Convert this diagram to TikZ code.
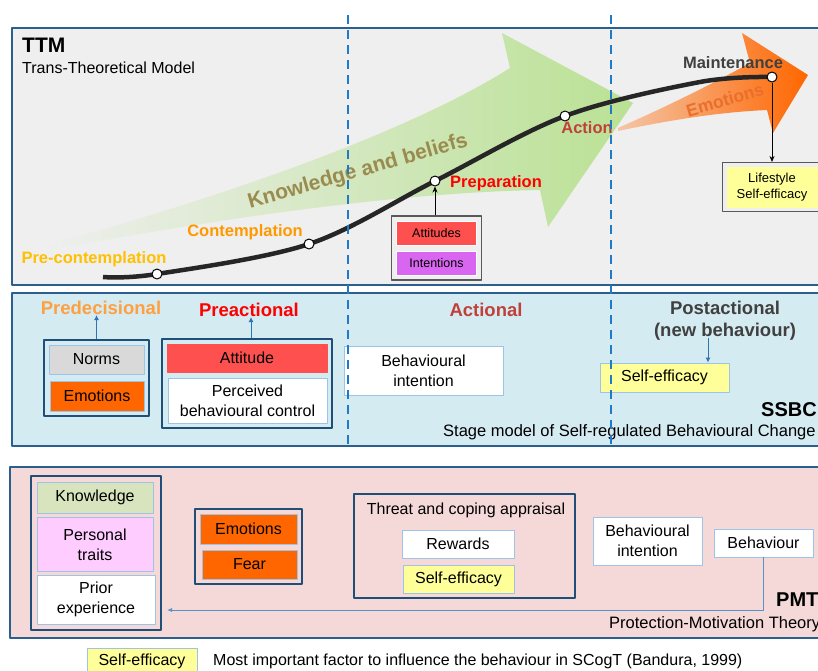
\documentclass[tikz,border=0pt]{standalone}
\usepackage{fontspec}
\setmainfont{Liberation Sans}
\usetikzlibrary{arrows.meta,fit,positioning}

\definecolor{ttmbg}{HTML}{EFEFEF}
\definecolor{ssbcbg}{HTML}{D5EBF2}
\definecolor{pmtbg}{HTML}{F5D9D8}
\definecolor{frame}{HTML}{2B5F8F}
\definecolor{gblue}{HTML}{1F4E79}
\definecolor{lblue}{HTML}{9DC3E6}
\definecolor{arblue}{HTML}{2E75B6}
\definecolor{vdblue}{HTML}{1F7BC8}
\definecolor{ggray}{HTML}{595959}
\definecolor{kgreen}{HTML}{BAE194}
\definecolor{ktext}{HTML}{9A8B4F}
\definecolor{eorange}{HTML}{FF6600}
\definecolor{etext}{HTML}{EA6E2C}
\definecolor{cpre}{HTML}{FFC000}
\definecolor{ccon}{HTML}{FF9900}
\definecolor{cprep}{HTML}{FF0000}
\definecolor{cact}{HTML}{C0403A}
\definecolor{cmnt}{HTML}{404040}
\definecolor{cpred}{HTML}{FFA040}
\definecolor{attred}{HTML}{FF5050}
\definecolor{intviol}{HTML}{D966F0}
\definecolor{normgray}{HTML}{D9D9D9}
\definecolor{yel}{HTML}{FFFF99}
\definecolor{knowgreen}{HTML}{D7E4BD}
\definecolor{perspink}{HTML}{FFCCFF}

\newcommand\fsz[2]{\fontsize{#1}{#2}\selectfont}

\tikzset{
  panel/.style={draw=frame, line width=2pt},
  inbox/.style={draw=lblue, line width=0.9pt, align=center, inner sep=0pt,
    font=\fsz{16}{20}},
  grp/.style={draw=gblue, line width=2pt, inner sep=5pt},
  phase/.style={font=\bfseries\fsz{18.5}{22}, inner sep=0pt, align=center},
  stagelab/.style={font=\bfseries\fsz{16.5}{19}, inner sep=0pt},
  dot/.style={circle, draw=black, fill=white, line width=1pt,
    minimum size=10pt, inner sep=0pt},
  uparr/.style={draw=arblue, line width=0.9pt, -{Latex[length=5pt,width=5pt]}},
  vdash/.style={draw=vdblue, line width=2pt, dash pattern=on 9pt off 6pt},
}

\begin{document}
\begin{tikzpicture}[x=1pt, y=-1pt, line join=round]
  \useasboundingbox (0,0) rectangle (818,670);
  \clip (0,0) rectangle (818,670);

  % panels
  \draw[panel, fill=ttmbg] (12,28) rectangle (830,285);
  \draw[panel, fill=ssbcbg] (12,293) rectangle (830,446);
  \draw[panel, fill=pmtbg] (10,467) rectangle (830,638);

  % TTM
  \node[anchor=west, inner sep=0pt, font=\bfseries\fsz{21}{24}] (ttm) at (22,45) {TTM};
  \node[anchor=west, inner sep=0pt, font=\fsz{16}{19}] (ttmname) at (22,68) {Trans-Theoretical Model};

  \shade[left color=ttmbg, right color=kgreen]
    (40,247) .. controls (250,190) and (420,125) .. (510,68) -- (502,33)
    -- (633,103) -- (548,227) -- (540,190)
    .. controls (420,192) and (250,212) .. (40,252) -- cycle;
  \shade[left color=ttmbg!70!eorange, middle color=eorange!65, right color=eorange]
    (618,128) .. controls (670,105) and (710,85) .. (750,63) -- (742,33)
    -- (808,75) -- (773,133) -- (767,110)
    .. controls (720,112) and (670,120) .. (618,131) -- cycle;
  \node[rotate=16, text=ktext, font=\bfseries\fsz{21}{24}, inner sep=0pt] (kb) at (358,172) {Knowledge and beliefs};
  \node[rotate=16, text=etext, font=\bfseries\fsz{17.5}{20}, inner sep=0pt] (emo) at (725,100) {Emotions};

  % stage curve
  \coordinate (c0) at (103,277);
  \coordinate (p1) at (157,274);
  \coordinate (p2) at (309,244);
  \coordinate (p3) at (435,181);
  \coordinate (p4) at (565,116);
  \coordinate (c5) at (700,82);
  \coordinate (p5) at (772,77);
  \draw[line width=4.5pt, color=black!85] plot[smooth, tension=0.55]
    coordinates {(c0) (p1) (p2) (p3) (p4) (c5) (p5)};
  \begin{scope}[every node/.style={dot}]
    \node (pre) at (p1) {};
    \node (con) at (p2) {};
    \node (prep) at (p3) {};
    \node (act) at (p4) {};
    \node (mnt) at (p5) {};
  \end{scope}

  \begin{scope}[every node/.style={stagelab}]
    \node[text=cpre] (lpre) at (94,259) {Pre-contemplation};
    \node[text=ccon] (lcon) at (245,232) {Contemplation};
    \node[text=cprep] (lprep) at (496,183) {Preparation};
    \node[text=cact] (lact) at (587,128) {Action};
    \node[text=cmnt] (lmnt) at (733,63) {Maintenance};
  \end{scope}

  \begin{scope}[every node/.style={inbox, draw=white, font=\fsz{12.5}{15},
      minimum width=80pt, minimum height=24pt}]
    \node[fill=attred] (att) at (436.5,233) {Attitudes};
    \node[fill=intviol] (int) at (436.5,263) {Intentions};
  \end{scope}
  \node[draw=ggray, line width=1.2pt, fit=(att)(int), inner sep=4.5pt] (attout) {};
  \draw[-{Stealth[length=6pt,width=5pt]}, line width=0.8pt] (attout.north -| prep) -- (prep);

  \node[inbox, draw=yel, fill=yel, font=\fsz{13}{16.5}, minimum width=90pt,
    minimum height=40pt] (life) at (772,187) {Lifestyle\\Self-efficacy};
  \node[draw=ggray, line width=1.2pt, fit=(life), inner sep=4pt] (lifeout) {};
  \draw[-{Stealth[length=6pt,width=5pt]}, line width=0.8pt] (mnt) -- (mnt |- lifeout.north);

  % SSBC
  \begin{scope}[every node/.style={inbox}]
    \node[fill=normgray, minimum width=95pt, minimum height=29pt] (norms) at (96.5,359.5) {Norms};
    \node[fill=eorange, minimum width=94pt, minimum height=30pt] (emo1) at (97,396) {Emotions};
    \node[fill=attred, draw=attred, minimum width=160pt, minimum height=28pt] (atti) at (247,358) {Attitude};
    \node[fill=white, minimum width=159pt, minimum height=45pt] (pbc) at (247.5,400.5) {Perceived\\behavioural control};
    \node[fill=white, minimum width=159pt, minimum height=49pt] (bint1) at (423.5,370.5) {Behavioural\\intention};
    \node[fill=yel, minimum width=129pt, minimum height=29pt] (se1) at (664.5,377.5) {Self-efficacy};
  \end{scope}
  \node[grp, fit=(norms)(emo1)] (gpred) {};
  \node[grp, fit=(atti)(pbc)] (gpreact) {};

  \node[phase, text=cpred] (lpred) at (101,308) {Predecisional};
  \node[phase, text=cprep] (lpreact) at (249,310) {Preactional};
  \node[phase, text=cact] (lactn) at (486,310) {Actional};
  \node[phase, text=cmnt] (lpost) at (725,321) {Postactional\\(new behaviour)};
  \coordinate (postarr) at (708,338);

  \draw[uparr] (gpred.north) -- (gpred.north |- lpred.south);
  \draw[uparr] ([xshift=4pt]gpreact.north) -- ([xshift=4pt]gpreact.north |- lpreact.south);
  \draw[uparr] (postarr) -- (postarr |- se1.north);

  \node[anchor=west, inner sep=0pt, font=\bfseries\fsz{20}{24}] (ssbc) at (761,410) {SSBC};
  \node[anchor=west, inner sep=0pt, font=\fsz{16.5}{19}] (ssbcname) at (443,432) {Stage model of Self-regulated Behavioural Change};

  % PMT
  \begin{scope}[every node/.style={inbox}]
    \node[fill=knowgreen, minimum width=116pt, minimum height=31pt] (know) at (95,497.5) {Knowledge};
    \node[fill=perspink, minimum width=116pt, minimum height=54pt] (pers) at (95,544.5) {Personal\\traits};
    \node[fill=white, minimum width=118pt, minimum height=49pt] (prior) at (96,599.5) {Prior\\experience};
    \node[fill=eorange, minimum width=97pt, minimum height=30pt] (emo2) at (248.5,529) {Emotions};
    \node[fill=eorange, minimum width=95pt, minimum height=29pt] (fear) at (249.5,564.5) {Fear};
    \node[fill=white, minimum width=112pt, minimum height=28pt] (rew) at (458,544) {Rewards};
    \node[fill=yel, minimum width=111pt, minimum height=28pt] (se2) at (458.5,579) {Self-efficacy};
    \node[fill=white, minimum width=109pt, minimum height=48pt] (bint2) at (647.5,541) {Behavioural\\intention};
    \node[fill=white, minimum width=99pt, minimum height=28pt] (bhv) at (763.5,543) {Behaviour};
  \end{scope}
  \node[grp, fit=(know)(pers)(prior), inner sep=6pt] (gknow) {};
  \node[grp, fit=(emo2)(fear)] (gemo) {};
  \node[grp, minimum width=221pt, minimum height=104pt] (gthreat) at (464.5,546) {};
  \node[inner sep=0pt, font=\fsz{16}{19}] (threat) at (466,510) {Threat and coping appraisal};

  \coordinate (ret) at (167,610);
  \draw[draw=arblue!80, line width=0.8pt, -{Latex[length=5pt,width=4pt]}] (bhv.south) |- (ret);

  \node[anchor=west, inner sep=0pt, font=\bfseries\fsz{20}{24}] (pmt) at (776,600) {PMT};
  \node[anchor=west, inner sep=0pt, font=\fsz{16.5}{19}] (pmtname) at (609,624) {Protection-Motivation Theory};

  % legend
  \node[inbox, fill=yel, minimum width=110pt, minimum height=27pt] (se3) at (142,661.5) {Self-efficacy};
  \node[anchor=west, inner sep=0pt, font=\fsz{16}{19}] (legend) at (213,661) {Most important factor to influence the behaviour in SCogT (Bandura, 1999)};

  % stage borders
  \draw[vdash] (348,15) -- (348,444);
  \draw[vdash] (611,15) -- (611,444);
\end{tikzpicture}
\end{document}
